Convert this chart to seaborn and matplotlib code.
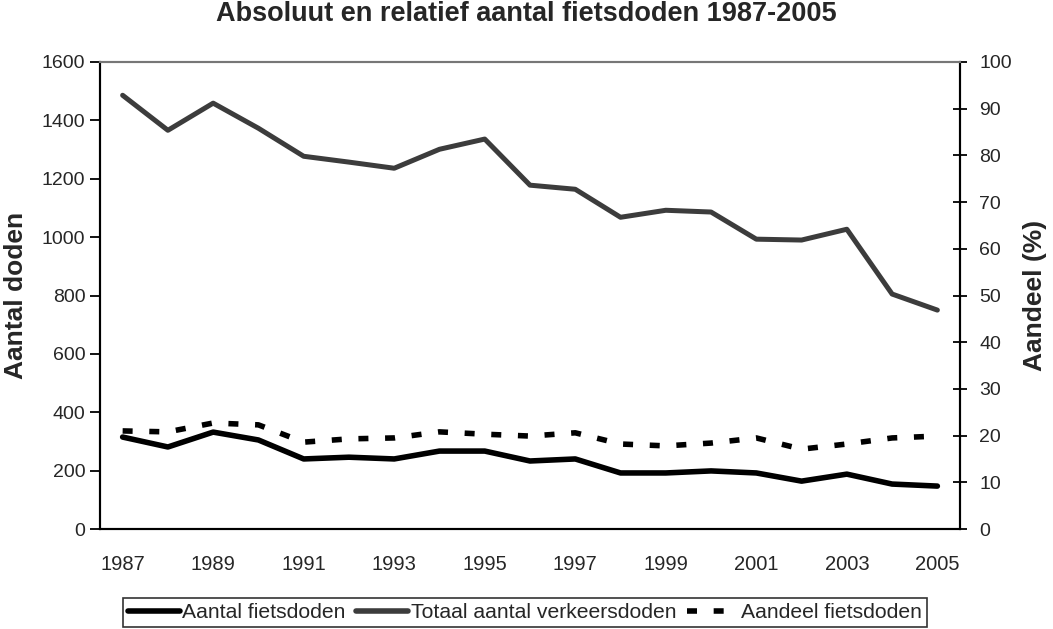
import matplotlib
matplotlib.use("Agg")
import matplotlib.pyplot as plt
import seaborn as sns
import pandas as pd
from matplotlib.lines import Line2D

years = list(range(1987, 2006))
fietsdoden = [315, 281, 332, 305, 240, 246, 240, 267, 267, 233, 240, 192, 192, 199, 192, 164, 188, 154, 147]
totaal = [1486, 1366, 1459, 1373, 1277, 1257, 1236, 1301, 1336, 1178, 1164, 1068, 1092, 1086, 993, 990, 1027, 805, 750]
aandeel = [21.0, 20.8, 22.7, 22.3, 18.6, 19.3, 19.5, 20.8, 20.3, 19.9, 20.6, 18.2, 17.8, 18.4, 19.5, 17.1, 18.2, 19.5, 19.9]

sns.set_style("white")
plt.rcParams['font.family'] = ['Liberation Sans', 'DejaVu Sans']

df = pd.DataFrame({"jaar": years, "fiets": fietsdoden, "totaal": totaal, "aandeel": aandeel})

fig = plt.figure(figsize=(10.53, 6.29), dpi=100)
ax = fig.add_axes([100/1053, 1-529/629, 860/1053, 467/629])

DOT = [1.8, 3.0]

sns.lineplot(data=df, x="jaar", y="totaal", ax=ax, color="#3c3c3c", linewidth=3.6)
sns.lineplot(data=df, x="jaar", y="fiets", ax=ax, color="black", linewidth=4.0)

ax2 = ax.twinx()
sns.lineplot(data=df, x="jaar", y="aandeel", ax=ax2, color="black", linewidth=4.0)
ax2.lines[0].set_dashes(DOT)
ax2.lines[0].set_dash_capstyle("butt")

ax.set_xlim(1986.5, 2005.5)
ax.set_ylim(0, 1600)
ax2.set_ylim(0, 100)
ax.set_yticks(range(0, 1601, 200))
ax2.set_yticks(range(0, 101, 10))
ax.set_xticks(years[::2])
ax.set_xticks([y - 0.5 for y in years] + [2005.5], minor=True)
ax.tick_params(axis="x", which="major", length=0, labelsize=14.5, pad=19)
ax.tick_params(axis="x", which="minor", length=7, width=1.3, color="black", direction="out")
ax.tick_params(axis="y", length=7, width=1.3, color="black", direction="out", labelsize=14, left=True)
ax2.tick_params(axis="y", length=10, width=1.3, color="black", direction="inout", labelsize=14, right=True, pad=9)

ax.set_xlabel("")
ax.set_ylabel("Aantal doden", fontsize=19, fontweight="bold", labelpad=10)
ax2.set_ylabel("Aandeel (%)", fontsize=19, fontweight="bold", labelpad=8)

for a in (ax, ax2):
    for s in a.spines.values():
        s.set_color("black")
        s.set_linewidth(1.5)
ax.spines["top"].set_color("#777777")
ax2.spines["top"].set_color("#777777")

fig.text(0.5, 1-14/629, "Absoluut en relatief aantal fietsdoden 1987-2005", fontsize=19.5,
         fontweight="bold", ha="center", va="center")

handles = [
    Line2D([0], [0], color="black", linewidth=4.0),
    Line2D([0], [0], color="#3c3c3c", linewidth=4.0),
    Line2D([0], [0], color="black", linewidth=4.0, dashes=DOT, dash_capstyle="butt"),
]
labels = ["Aantal fietsdoden", "Totaal aantal verkeersdoden", "Aandeel fietsdoden"]
leg = fig.legend(handles, labels, loc="center", bbox_to_anchor=(525/1053, 1-612.5/629), ncol=3,
                 fontsize=15.2, frameon=True, fancybox=False, edgecolor="black", borderpad=0.25,
                 handlelength=2.46, handletextpad=0.1, columnspacing=0.52, borderaxespad=0)
leg.get_frame().set_linewidth(1.2)

fig.savefig("out.png", dpi=100)
